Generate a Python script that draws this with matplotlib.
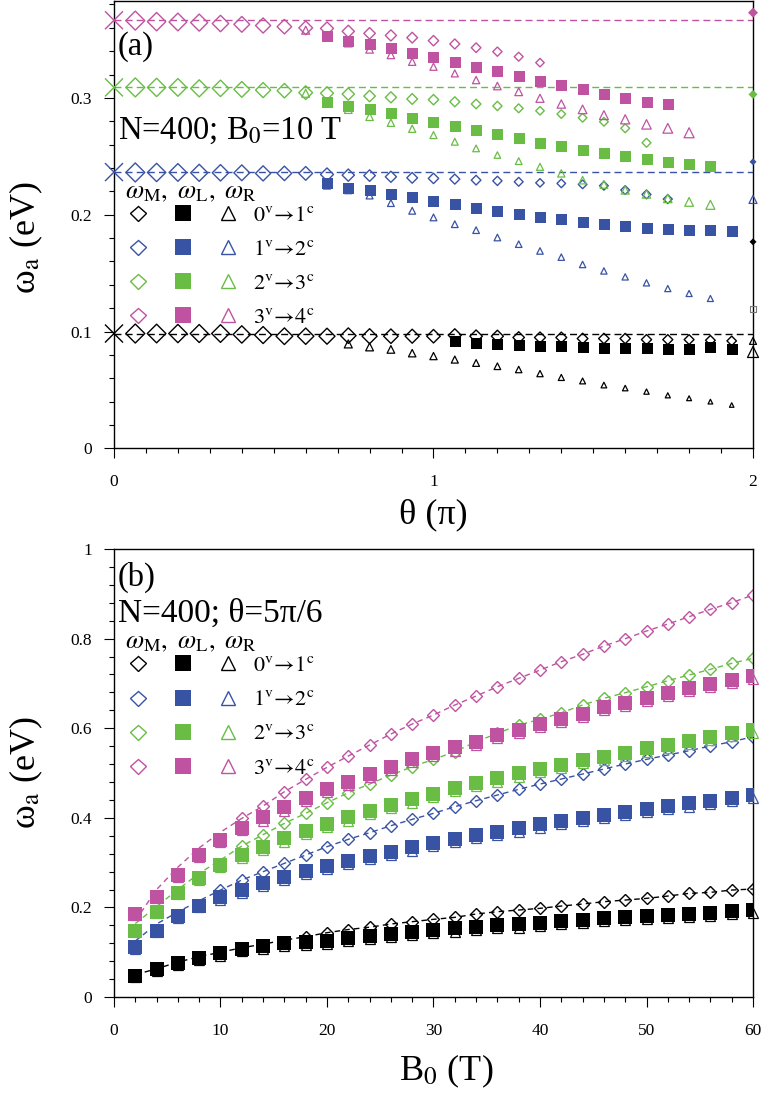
import matplotlib
matplotlib.use("Agg")
import matplotlib.pyplot as plt
import numpy as np
from matplotlib.legend_handler import HandlerTuple
from matplotlib.lines import Line2D
from matplotlib.ticker import MultipleLocator

plt.rcParams["font.family"] = ["Liberation Serif", "DejaVu Serif"]
plt.rcParams["mathtext.fontset"] = "stix"

DPI = 100
nan = np.nan

colors = ["#000000", "#3953a4", "#69bd45", "#c053a1"]
transitions = [r"$0^{\rm v}\!\rightarrow\!1^{\rm c}$",
               r"$1^{\rm v}\!\rightarrow\!2^{\rm c}$",
               r"$2^{\rm v}\!\rightarrow\!3^{\rm c}$",
               r"$3^{\rm v}\!\rightarrow\!4^{\rm c}$"]
header = r"$\omega_{\rm M},\ \omega_{\rm L},\ \omega_{\rm R}$"

# ---------------- panel (a): B0 = 10 T, theta in units of pi ----------------
theta_k = np.arange(1, 30)
theta = theta_k / 15

a_M0 = [0.0983, 0.0983, 0.0983, 0.0983, 0.0983, 0.0975, 0.0970, 0.0960, 0.0960, 0.0960,
        0.0965, 0.0960, 0.0960, 0.0960, 0.0960, 0.0968, 0.0960, 0.0960, 0.0949, 0.0949,
        0.0949, 0.0940, 0.0940, 0.0940, 0.0931, 0.0931, 0.0931, 0.0925, 0.0920]
a_L0 = [nan] * 15 + [0.0920, 0.0906, 0.0897, 0.0889, 0.0880, 0.0874, 0.0868, 0.0863,
                     0.0860, 0.0860, 0.0854, 0.0854, 0.0868, 0.0854]
a_R0 = [nan] * 10 + [0.0894, 0.0868, 0.0847, 0.0815, 0.0790, 0.0760, 0.0731, 0.0703,
                     0.0675, 0.0640, 0.0607, 0.0577, 0.0542, 0.0516, 0.0486, 0.0454,
                     0.0429, 0.0400, 0.0371]

a_M1 = [0.2362, 0.2362, 0.2362, 0.2359, 0.2359, 0.2359, 0.2354, 0.2354, 0.2354, 0.2345,
        0.2339, 0.2335, 0.2325, 0.2316, 0.2311, 0.2305, 0.2296, 0.2290, 0.2282, 0.2273,
        0.2268, 0.2260, 0.2248, 0.2211, 0.2174, 0.2134, nan, nan, nan]
a_L1 = [nan] * 9 + [0.2268, 0.2230, 0.2211, 0.2180, 0.2148, 0.2119, 0.2091, 0.2060,
                    0.2035, 0.2005, 0.1982, 0.1960, 0.1939, 0.1919, 0.1902, 0.1888,
                    0.1877, 0.1868, 0.1868, 0.1862]
a_R1 = [nan] * 9 + [0.2250, 0.2210, 0.2165, 0.2100, 0.2034, 0.1977, 0.1919, 0.1868,
                    0.1805, 0.1748, 0.1690, 0.1637, 0.1574, 0.1519, 0.1468, 0.1417,
                    0.1368, 0.1326, 0.1283, nan]

a_M2 = [0.3090, 0.3090, 0.3090, 0.3082, 0.3082, 0.3073, 0.3067, 0.3062, 0.3045, 0.3040,
        0.3033, 0.3016, 0.3005, 0.2991, 0.2985, 0.2967, 0.2948, 0.2931, 0.2911, 0.2890,
        0.2862, 0.2830, 0.2796, 0.2740, 0.2616, nan, nan, nan, nan]
a_L2 = [nan] * 9 + [0.2968, 0.2930, 0.2902, 0.2868, 0.2830, 0.2796, 0.2759, 0.2725,
                    0.2688, 0.2654, 0.2616, 0.2588, 0.2554, 0.2525, 0.2502, 0.2474,
                    0.2448, 0.2434, 0.2414, nan]
a_R2 = [nan] * 8 + [0.3040, 0.2960, 0.2900, 0.2839, 0.2788, 0.2736, 0.2682, 0.2625,
                    0.2568, 0.2511, 0.2459, 0.2410, 0.2354, 0.2296, 0.2260, 0.2211,
                    0.2177, 0.2140, 0.2110, 0.2085, nan]

a_M3 = [0.3662, 0.3653, 0.3650, 0.3645, 0.3637, 0.3630, 0.3620, 0.3610, 0.3600, 0.3595,
        0.3570, 0.3553, 0.3535, 0.3516, 0.3490, 0.3462, 0.3430, 0.3396, 0.3353, 0.3302,
        nan, nan, nan, nan, nan, nan, nan, nan, nan]
a_L3 = [nan] * 9 + [0.3530, 0.3490, 0.3460, 0.3425, 0.3387, 0.3348, 0.3308, 0.3262,
                    0.3230, 0.3188, 0.3147, 0.3110, 0.3074, 0.3037, 0.2997, 0.2961,
                    0.2947, nan, nan, nan]
a_R3 = [nan] * 8 + [0.3580, 0.3520, 0.3470, 0.3416, 0.3368, 0.3310, 0.3267, 0.3210,
                    0.3153, 0.3102, 0.3053, 0.2997, 0.2948, 0.2902, 0.2853, 0.2817,
                    0.2774, 0.2740, 0.2702, nan, nan]

# theta -> 0 limits (crosses and dashed guide lines)
a_lim = [0.0983, 0.2365, 0.3090, 0.3665]
# values marked on the theta = 2 edge
edge_D = [0.1768, 0.2453, 0.3030, 0.3730]
edge_tri_blue = [0.2131]
edge_tri_black = [0.0920, 0.0825]
edge_sq = [0.1197]

# ---------------- panel (b): theta = 5pi/6, vs B0 ----------------
B = np.arange(2, 61, 2)

# omega_M: dashed curve; diamonds are only visible from b_M_first on
b_M0 = [0.050, 0.063, 0.078, 0.090, 0.100, 0.110, 0.118, 0.127, 0.1347, 0.1436,
        0.1507, 0.1559, 0.1630, 0.1682, 0.1734, 0.1778, 0.1853, 0.1905, 0.1942, 0.1980,
        0.2031, 0.2076, 0.2128, 0.2165, 0.2202, 0.2254, 0.2314, 0.2336, 0.2388, 0.2411]
b_L0 = [0.0480, 0.0618, 0.0766, 0.0882, 0.0975, 0.1078, 0.1142, 0.1198, 0.1228, 0.1261,
        0.1321, 0.1358, 0.1406, 0.1458, 0.1496, 0.1533, 0.1570, 0.1607, 0.1622, 0.1659,
        0.1696, 0.1719, 0.1756, 0.1778, 0.1808, 0.1830, 0.1853, 0.1882, 0.1920, 0.1942]
b_R0 = [0.045, 0.058, 0.072, 0.083, 0.092, 0.102, 0.107, 0.113, 0.116, 0.119,
        0.125, 0.129, 0.134, 0.139, 0.143, 0.146, 0.150, 0.154, 0.155, 0.159,
        0.163, 0.165, 0.169, 0.171, 0.174, 0.176, 0.178, 0.181, 0.185, 0.187]

b_M1 = [0.125, 0.163, 0.190, 0.215, 0.2388, 0.2612, 0.2798, 0.2984, 0.3170, 0.3356,
        0.3520, 0.3668, 0.3824, 0.3966, 0.4100, 0.4248, 0.4382, 0.4509, 0.4636, 0.4754,
        0.4866, 0.4978, 0.5089, 0.5201, 0.5305, 0.5402, 0.5498, 0.5603, 0.5699, 0.5810]
b_L1 = [0.1109, 0.1480, 0.1808, 0.2039, 0.2225, 0.2388, 0.2537, 0.2686, 0.2813, 0.2924,
        0.3036, 0.3147, 0.3244, 0.3341, 0.3430, 0.3520, 0.3609, 0.3690, 0.3765, 0.3854,
        0.3929, 0.4003, 0.4062, 0.4137, 0.4204, 0.4270, 0.4323, 0.4382, 0.4449, 0.4509]
b_R1 = [0.108, 0.145, 0.177, 0.200, 0.217, 0.232, 0.247, 0.262, 0.274, 0.285,
        0.297, 0.308, 0.317, 0.327, 0.336, 0.345, 0.354, 0.362, 0.369, 0.378,
        0.386, 0.393, 0.399, 0.407, 0.413, 0.420, 0.425, 0.431, 0.438, 0.444]

b_M2 = [0.164, 0.202, 0.240, 0.276, 0.3060, 0.3370, 0.3625, 0.3876, 0.4100, 0.4338,
        0.4560, 0.4754, 0.4955, 0.5140, 0.5305, 0.5476, 0.5699, 0.5885, 0.6071, 0.6198,
        0.6346, 0.6518, 0.6667, 0.6793, 0.6926, 0.7061, 0.7188, 0.7314, 0.7448, 0.7560]
b_L2 = [0.1480, 0.1905, 0.2329, 0.2664, 0.2946, 0.3170, 0.3356, 0.3542, 0.3705, 0.3862,
        0.4011, 0.4159, 0.4286, 0.4412, 0.4531, 0.4658, 0.4784, 0.4881, 0.4993, 0.5089,
        0.5179, 0.5290, 0.5365, 0.5454, 0.5551, 0.5625, 0.5722, 0.5796, 0.5885, 0.5960]
b_R2 = [0.145, 0.188, 0.229, 0.262, 0.290, 0.311, 0.329, 0.347, 0.364, 0.379,
        0.394, 0.409, 0.422, 0.434, 0.446, 0.459, 0.471, 0.481, 0.492, 0.502,
        0.511, 0.522, 0.530, 0.538, 0.548, 0.556, 0.565, 0.573, 0.582, 0.589]

b_M3 = [0.170, 0.240, 0.290, 0.333, 0.368, 0.3988, 0.4263, 0.4583, 0.4859, 0.5127,
        0.5379, 0.5625, 0.5871, 0.6094, 0.6295, 0.6518, 0.6719, 0.6927, 0.7113, 0.7299,
        0.7485, 0.7650, 0.7835, 0.7998, 0.8170, 0.8326, 0.8489, 0.8654, 0.8802, 0.8973]
b_L3 = [0.1853, 0.2239, 0.2723, 0.3170, 0.3504, 0.3765, 0.4011, 0.4234, 0.4435, 0.4636,
        0.4806, 0.4978, 0.5140, 0.5305, 0.5440, 0.5573, 0.5699, 0.5848, 0.5960, 0.6086,
        0.6198, 0.6317, 0.6466, 0.6570, 0.6680, 0.6778, 0.6890, 0.6980, 0.7076, 0.7172]
b_R3 = [0.182, 0.221, 0.269, 0.313, 0.346, 0.372, 0.394, 0.416, 0.437, 0.457,
        0.474, 0.491, 0.507, 0.524, 0.537, 0.550, 0.563, 0.578, 0.589, 0.602,
        0.613, 0.625, 0.640, 0.650, 0.661, 0.671, 0.682, 0.691, 0.701, 0.710]
b_M_first = [18, 10, 12, 12]

a_M = [a_M0, a_M1, a_M2, a_M3]
a_L = [a_L0, a_L1, a_L2, a_L3]
a_R = [a_R0, a_R1, a_R2, a_R3]
b_M = [b_M0, b_M1, b_M2, b_M3]
b_L = [b_L0, b_L1, b_L2, b_L3]
b_R = [b_R0, b_R1, b_R2, b_R3]


# marker widths given in pixels -> matplotlib sizes
def pt(w):
    return w * 72 / DPI


def ms_D(w):
    return pt(w) / np.sqrt(2)


def a_diamond_px(i, k):
    if i == 0:
        return np.interp(k, [1, 10, 20, 29], [19, 16, 11, 9.5])
    return np.interp(k, [1, 8, 12, 20, 26], [19, 14.5, 11.5, 8.5, 9])


def a_tri_px(i, k):
    if i == 0:
        return np.interp(k, [11, 29], [8, 4.5])
    if i == 1:
        return np.interp(k, [10, 29], [7, 6])
    if i == 2:
        return np.interp(k, [9, 18, 28], [8, 6.5, 9])
    return np.interp(k, [9, 16, 27], [8, 7, 10])


fig = plt.figure(figsize=(7.63, 10.93), dpi=DPI)
ax1 = fig.add_axes([0.1494, 0.5898, 0.8375, 0.4093])
ax2 = fig.add_axes([0.1494, 0.0878, 0.8375, 0.4099])

# ---- (a)
for i, c in enumerate(colors):
    ax1.axhline(a_lim[i], color=c, ls=(0, (5, 3)), lw=1.0, zorder=1)
    ax1.scatter(theta, a_M[i], marker="D", s=ms_D(a_diamond_px(i, theta_k)) ** 2,
                facecolors="none", edgecolors=c, linewidths=1.0, zorder=2)
    ax1.plot(theta, a_L[i], "s", color=c, ms=pt(11), mew=0, zorder=3)
    ax1.scatter(theta, a_R[i], marker="^", s=pt(a_tri_px(i, theta_k)) ** 2,
                facecolors="none", edgecolors=c, linewidths=0.9, zorder=4)

ax1.scatter(np.zeros(4), a_lim, marker="x", s=pt(18) ** 2, c=colors,
            linewidths=1.0, clip_on=False, zorder=5)
ax1.scatter(np.full(4, 2.0), edge_D, marker="D", s=ms_D(np.array([7, 7, 9, 10])) ** 2,
            c=colors, linewidths=0, clip_on=False, zorder=5)
ax1.scatter(np.full(1, 2.0), edge_tri_blue, marker="^", s=pt(8) ** 2,
            facecolors="none", edgecolors=colors[1], linewidths=0.9, clip_on=False, zorder=5)
ax1.scatter(np.full(2, 2.0), edge_tri_black, marker="^", s=pt(np.array([7, 11])) ** 2,
            facecolors="none", edgecolors="k", linewidths=0.9, clip_on=False, zorder=5)
ax1.scatter(np.full(1, 2.0), edge_sq, marker="s", s=pt(6) ** 2,
            facecolors="none", edgecolors="#777777", linewidths=0.8, clip_on=False, zorder=5)

ax1.set_xlim(0, 2)
ax1.set_ylim(0, 0.383)
ax1.set_xticks([0, 1, 2])
ax1.set_xticklabels(["0", "1", "2"])
ax1.set_yticks([0, 0.1, 0.2, 0.3])
ax1.set_yticklabels(["0", "0.1", "0.2", "0.3"])
ax1.xaxis.set_minor_locator(MultipleLocator(0.1))
ax1.yaxis.set_minor_locator(MultipleLocator(0.02))
ax1.set_xlabel("θ (π)", fontsize=26)
ax1.set_ylabel(r"ω$_{\rm a}$ (eV)", fontsize=26)
ax1.xaxis.set_label_coords(0.5, -0.112)
ax1.yaxis.set_label_coords(-0.108, 0.47)
ax1.text(0.006, 0.897, "(a)", transform=ax1.transAxes, fontsize=23.5, va="center")
ax1.text(0.006, 0.711, r"N=400; B$_0$=10 T", transform=ax1.transAxes,
         fontsize=23.5, va="center")

# ---- (b)
for i, c in enumerate(colors):
    vis = B >= b_M_first[i]
    ax2.plot(B, b_M[i], color=c, ls=(0, (4, 3)), lw=1.0, zorder=1)
    ax2.plot(B[vis], np.asarray(b_M[i])[vis], "D", mfc="none", mec=c, mew=1.0,
             ms=ms_D(12.5), zorder=2)
    ax2.plot(B, b_L[i], "s", color=c, ms=pt(14), mew=0, zorder=3)
    ax2.plot(B, b_R[i], "^", mfc="none", mec=c, mew=0.9, ms=pt(9.5), zorder=4,
             clip_on=False)

ax2.set_xlim(0, 60)
ax2.set_ylim(0, 1)
ax2.set_xticks(np.arange(0, 61, 10))
ax2.set_yticks([0, 0.2, 0.4, 0.6, 0.8, 1.0])
ax2.set_yticklabels(["0", "0.2", "0.4", "0.6", "0.8", "1"])
ax2.xaxis.set_minor_locator(MultipleLocator(2))
ax2.yaxis.set_minor_locator(MultipleLocator(0.04))
ax2.set_xlabel(r"B$_0$ (T)", fontsize=26)
ax2.set_ylabel(r"ω$_{\rm a}$ (eV)", fontsize=26)
ax2.xaxis.set_label_coords(0.52, -0.125)
ax2.yaxis.set_label_coords(-0.108, 0.5)
ax2.text(0.006, 0.9375, "(b)", transform=ax2.transAxes, fontsize=23.5, va="center")
ax2.text(0.006, 0.857, "N=400; θ=5π/6", transform=ax2.transAxes,
         fontsize=24, va="center")

for ax in (ax1, ax2):
    for sp in ax.spines.values():
        sp.set_linewidth(1.0)
    ax.tick_params(which="both", direction="out", width=0.8, labelsize=12.5)
    ax.tick_params(which="major", length=7.5)
    ax.tick_params(which="minor", length=3.8)
    ax.tick_params(axis="x", which="both", pad=11)
    ax.tick_params(axis="y", which="both", pad=8.5)

    handles = []
    for c in colors:
        handles.append((
            Line2D([], [], ls="none", marker="D", mfc="none", mec=c, mew=1.0, ms=ms_D(15)),
            Line2D([], [], ls="none", marker="s", color=c, mew=0, ms=pt(16)),
            Line2D([], [], ls="none", marker="^", mfc="none", mec=c, mew=1.0, ms=pt(14)),
        ))
    head_y, leg_y = (0.570, 0.544) if ax is ax1 else (0.790, 0.762)
    ax.text(0.017, head_y, header, transform=ax.transAxes, fontsize=19, va="center")
    ax.legend(handles, transitions, handler_map={tuple: HandlerTuple(ndivide=None, pad=0.855)},
              loc="upper left", bbox_to_anchor=(0.017, leg_y), frameon=False, fontsize=16,
              handlelength=5.22, handletextpad=0.54, labelspacing=0.61,
              borderpad=0, borderaxespad=0)

fig.savefig("out.png", dpi=DPI)
